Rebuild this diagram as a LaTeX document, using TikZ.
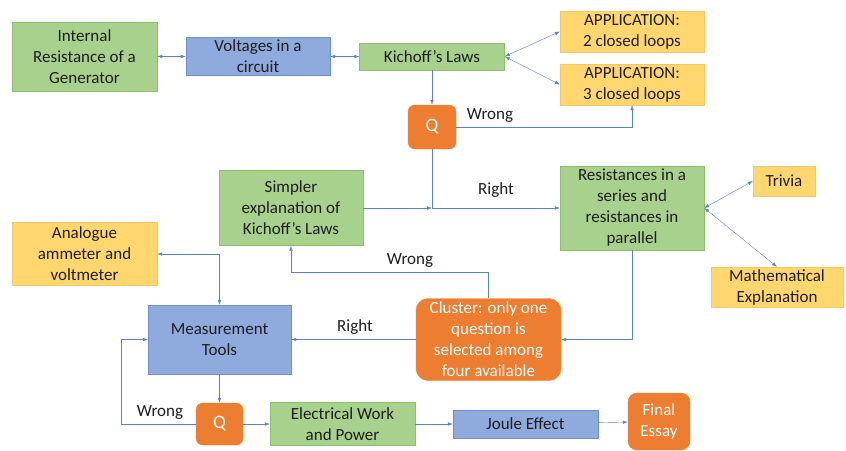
\documentclass[tikz,border=0pt]{standalone}
\usepackage{fontspec}
\setmainfont{Carlito}
\usetikzlibrary{arrows.meta, positioning}

\definecolor{greenfill}{HTML}{A9D18E}
\definecolor{greenline}{HTML}{8CBF6E}
\definecolor{bluefill}{HTML}{8FAADC}
\definecolor{blueline}{HTML}{6F8FCB}
\definecolor{yellowfill}{HTML}{FFD76E}
\definecolor{yellowline}{HTML}{F5C76A}
\definecolor{orangefill}{HTML}{ED7D31}
\definecolor{linkblue}{HTML}{5B83C4}
\definecolor{textdark}{HTML}{1E1E1E}

\begin{document}
\begin{tikzpicture}[
    x=1pt, y=-1pt,
    every node/.style={font=\fontsize{17}{21}\selectfont, text=textdark},
    greenbox/.style={draw=greenline, fill=greenfill, rectangle, align=center, inner sep=1pt},
    bluebox/.style={draw=blueline, fill=bluefill, rectangle, align=center, inner sep=1pt},
    yellowbox/.style={draw=yellowline, fill=yellowfill, rectangle, align=center, inner sep=1pt},
    orangebox/.style={draw=orangefill, fill=orangefill, rectangle, rounded corners=7pt, align=center, inner sep=1pt, text=white},
    qbox/.style={orangebox, font=\fontsize{19}{21}\selectfont},
    arrow/.style={-{Latex[length=5pt, width=3.5pt]}, draw=linkblue, thin},
    dblarrow/.style={{Latex[length=5pt, width=3.5pt]}-{Latex[length=5pt, width=3.5pt]}, draw=linkblue, thin},
    linelabel/.style={font=\fontsize{17}{20}\selectfont}
]
    \useasboundingbox (0, 0) rectangle (846, 450);

    % Top row
    \node (resgen) [greenbox, minimum width=145pt, minimum height=69pt] at (84.5, 56.5) {Internal\\Resistance of a\\Generator};
    \node (voltages) [bluebox, minimum width=144pt, minimum height=38pt] at (258, 56.5) {Voltages in a\\circuit};
    \node (kichoff) [greenbox, minimum width=145pt, minimum height=27pt] at (432, 56.5) {Kichoff’s Laws};
    \node (apptwo) [yellowbox, minimum width=144pt, minimum height=41pt] at (632, 31.5) {APPLICATION:\\2 closed loops};
    \node (appthree) [yellowbox, minimum width=144pt, minimum height=41pt] at (632, 84.5) {APPLICATION:\\3 closed loops};
    \node (qone) [qbox, minimum width=48pt, minimum height=44pt] at (432, 127) {Q};

    % Middle row
    \node (simpler) [greenbox, minimum width=144pt, minimum height=75pt] at (291, 208) {Simpler\\explanation of\\Kichoff’s Laws};
    \node (resist) [greenbox, minimum width=144pt, minimum height=84pt] at (632, 208) {Resistances in a\\series and\\resistances in\\parallel};
    \node (trivia) [yellowbox, minimum width=62pt, minimum height=30pt] at (784, 181) {Trivia};
    \node (maths) [yellowbox, minimum width=132pt, minimum height=40pt] at (777, 287) {Mathematical\\Explanation};
    \node (analogue) [yellowbox, minimum width=145pt, minimum height=63pt] at (84.5, 254) {Analogue\\ammeter and\\voltmeter};
    \node (measure) [bluebox, minimum width=143pt, minimum height=69pt] at (219.5, 339.5) {Measurement\\Tools};
    \node (cluster) [orangebox, minimum width=145pt, minimum height=82pt, rounded corners=12pt] at (488.5, 339.5) {Cluster: only one\\question is\\selected among\\four available};

    % Bottom row
    \node (qtwo) [qbox, minimum width=47pt, minimum height=42pt] at (219.5, 424) {Q};
    \node (elwork) [greenbox, minimum width=145pt, minimum height=43pt] at (342.5, 424) {Electrical Work\\and Power};
    \node (joule) [bluebox, minimum width=145pt, minimum height=28pt] at (525.5, 424) {Joule Effect};
    \node (essay) [orangebox, minimum width=62pt, minimum height=57pt, rounded corners=9pt] at (659, 421.5) {Final\\Essay};

    % Corners of the paths
    \coordinate (jct) at (432, 208);
    \coordinate (wrongturn) at (488.5, 272);
    \coordinate (loopcorner) at (121, 424);

    % Links in the top row
    \draw [dblarrow] (resgen) -- (voltages);
    \draw [dblarrow] (voltages) -- (kichoff);
    \draw [dblarrow] (kichoff.east) -- (apptwo.west);
    \draw [dblarrow] (kichoff.east) -- (appthree.west);
    \draw [arrow] (kichoff) -- (qone);
    \draw [arrow] (qone) -| (appthree);
    \node [linelabel] at (490, 116) {Wrong};

    % Links in the middle row
    \draw [arrow] (simpler) -- (jct);
    \draw [arrow] (qone) -- (jct) -- (resist);
    \node [linelabel] at (496, 190) {Right};
    \draw [dblarrow] (resist.east) -- (trivia.west);
    \draw [dblarrow] (resist.east) -- (maths.north);
    \draw [arrow] (resist) |- (cluster);
    \draw [arrow] (cluster) -- (wrongturn) -| (simpler);
    \node [linelabel] at (410, 261) {Wrong};
    \draw [arrow] (cluster) -- (measure);
    \node [linelabel] at (355, 327) {Right};
    \draw [dblarrow] (analogue) -| (measure);

    % Links in the bottom row
    \draw [arrow] (measure) -- (qtwo);
    \draw [arrow] (qtwo) -- (loopcorner) |- (measure);
    \node [linelabel] at (160, 413) {Wrong};
    \draw [arrow] (qtwo) -- (elwork);
    \draw [arrow] (elwork) -- (joule);
    \draw [arrow] (joule) -- (essay);

\end{tikzpicture}
\end{document}
